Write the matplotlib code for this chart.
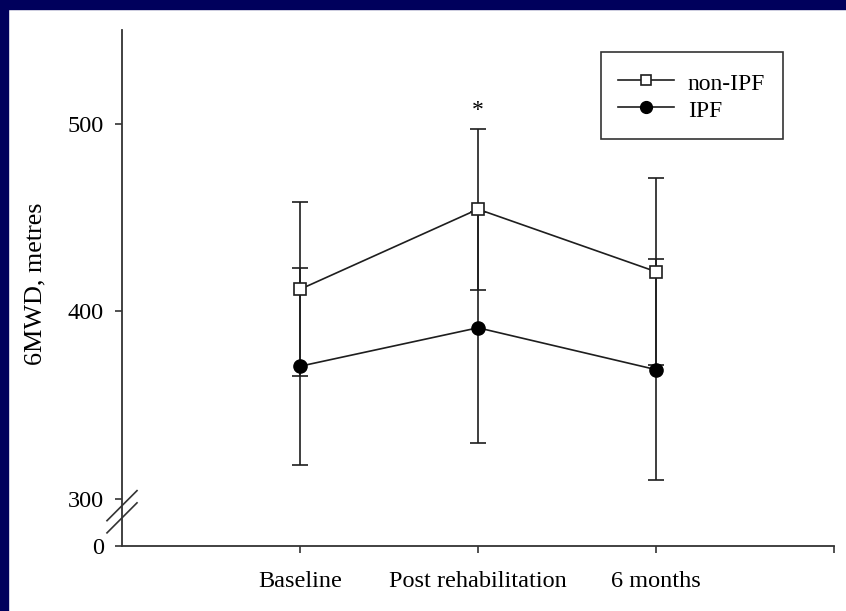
import matplotlib
matplotlib.use('Agg')
import matplotlib.pyplot as plt
from matplotlib.patches import Rectangle
from matplotlib.lines import Line2D
import matplotlib.transforms as mtransforms

plt.rcParams.update({
    "font.family": ["Liberation Serif", "DejaVu Serif"],
    "font.size": 17.5,
    "axes.linewidth": 1.3,
})

# ---------------------------------------------------------------- data
time_points = ['Baseline', 'Post rehabilitation', '6 months']
non_ipf_mean = [411.8, 454.5, 421.2]
non_ipf_sd = [46.3, 42.8, 49.8]
ipf_mean = [370.8, 391.3, 369.0]
ipf_sd = [52.6, 61.5, 58.8]
y_ticks = [300, 400, 500]
axis_zero = 275          # where the broken axis shows "0"

x = [1, 2, 3]
line_col = '#1e1e1e'

fig = plt.figure(figsize=(8.46, 6.11), dpi=100, facecolor='white')
# navy slide border (top and left)
fig.patches.append(Rectangle((0, 1 - 9 / 611), 1, 9 / 611, transform=fig.transFigure,
                             color='#00005c', zorder=0))
fig.patches.append(Rectangle((0, 0), 8 / 846, 1, transform=fig.transFigure,
                             color='#00005c', zorder=0))

ax = fig.add_axes([122 / 846, 1 - 546 / 611, 712 / 846, 516 / 611])
ax.set_facecolor('none')

ax.errorbar(x, non_ipf_mean, yerr=non_ipf_sd, color=line_col, lw=1.2, marker='s', ms=8,
            mfc='white', mec=line_col, mew=1.2, ecolor=line_col, elinewidth=1.2,
            capsize=6, capthick=1.2, zorder=3)
ax.errorbar(x, ipf_mean, yerr=ipf_sd, color=line_col, lw=1.2, marker='o', ms=9.5,
            mfc='black', mec='black', ecolor=line_col, elinewidth=1.2,
            capsize=6, capthick=1.2, zorder=3)

ax.text(2, 507, '*', ha='center', va='center', fontsize=17)

ax.set_xlim(0, 4)
ax.set_ylim(axis_zero, 550)
ax.set_xticks([1, 2, 3, 4])
ax.set_xticklabels(time_points + [''])
ax.set_yticks([axis_zero] + y_ticks)
ax.set_yticklabels(['0'] + [str(t) for t in y_ticks])
ax.tick_params(direction='out', length=5, width=1.2, color='#333333', pad=8)
ax.tick_params(axis='x', pad=13)
for side in ['top', 'right']:
    ax.spines[side].set_visible(False)
for side in ['left', 'bottom']:
    ax.spines[side].set_color('#333333')

ax.set_ylabel('6MWD, metres', fontsize=18.8)
ax.yaxis.set_label_coords(-0.106, 0.509)

# axis break marks
trans = mtransforms.blended_transform_factory(ax.transAxes, ax.transData)
dx = 15 / 712
ax.plot([-dx, dx], [288.5, 304.5], transform=trans, color='#333333', lw=1.2, clip_on=False)
ax.plot([-dx, dx], [282.0, 298.0], transform=trans, color='#333333', lw=1.2, clip_on=False)

handles = [
    Line2D([], [], color=line_col, lw=1.2, marker='s', ms=7, mfc='white', mec=line_col, mew=1.2),
    Line2D([], [], color=line_col, lw=1.2, marker='o', ms=8.5, mfc='black', mec='black'),
]
leg = ax.legend(handles, ['non-IPF', 'IPF'], loc='upper right',
                bbox_to_anchor=(661 / 712, 494 / 516), borderaxespad=0, frameon=True,
                fancybox=False, edgecolor='black', handlelength=2.35, handleheight=1.25,
                borderpad=0.75, labelspacing=0.05, handletextpad=0.6, fontsize=17)
leg.get_frame().set_linewidth(1.2)

fig.savefig('out.png', dpi=100, facecolor='white')
